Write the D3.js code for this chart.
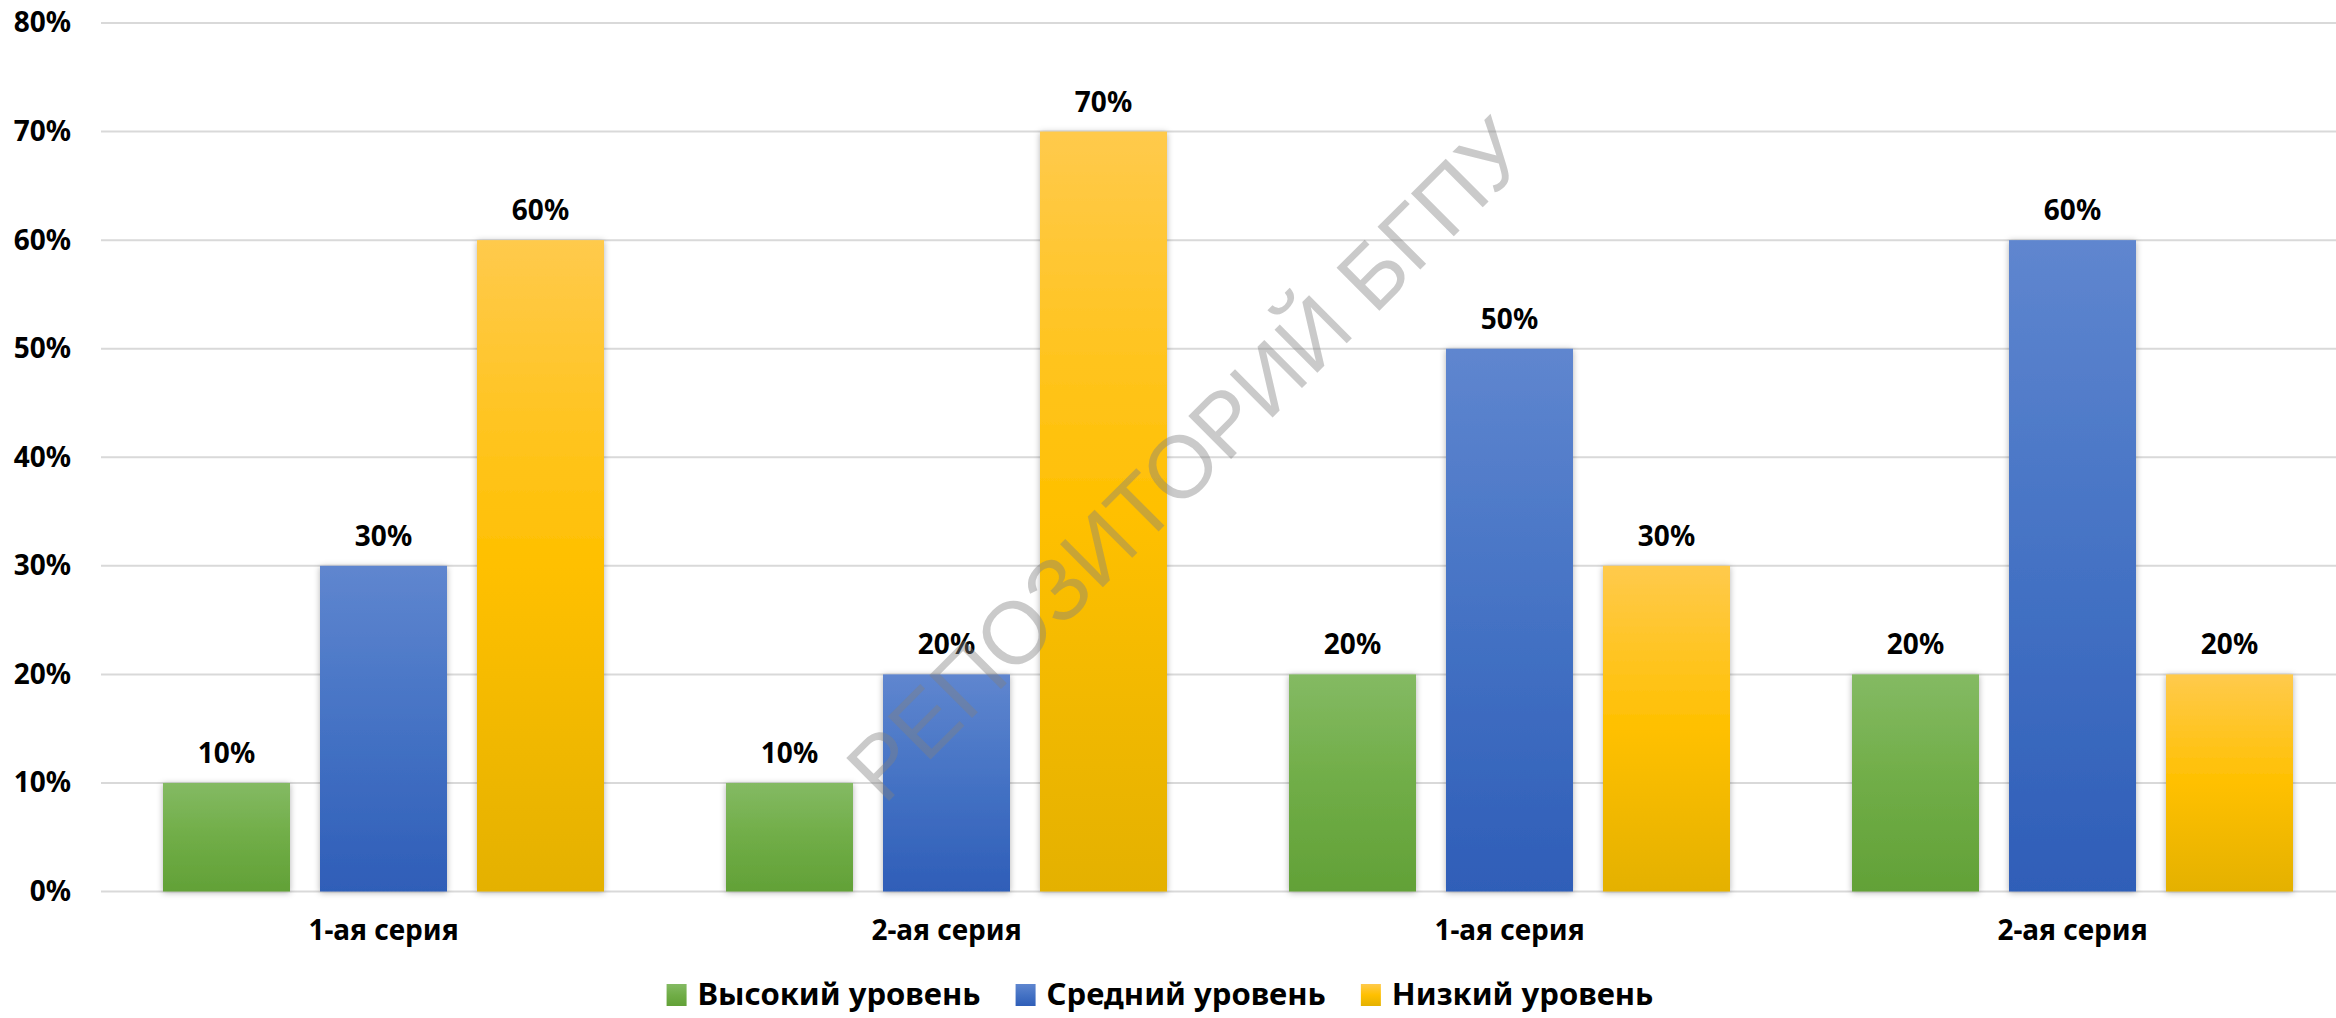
<!DOCTYPE html>
<html>
<head>
  <meta charset="UTF-8">
  <title>Уровни по сериям</title>
<style>
    body { margin: 0; background: white; }
    svg { display: block; }
    .lbl { font-family: "Noto Sans", "Open Sans", sans-serif; font-weight: 700; fill: black; }
</style>
</head>
<body>
<svg></svg>
<script src="https://d3js.org/d3.v7.min.js"></script>
<script>

// chart data
let categories = ["1-ая серия", "2-ая серия", "1-ая серия", "2-ая серия"];
let seriesNames = ["Высокий уровень", "Средний уровень", "Низкий уровень"];
let highValues = [0.1, 0.1, 0.2, 0.2];
let midValues = [0.3, 0.2, 0.5, 0.6];
let lowValues = [0.6, 0.7, 0.3, 0.2];
let yTicks = [0, 0.1, 0.2, 0.3, 0.4, 0.5, 0.6, 0.7, 0.8];

let seriesValues = [highValues, midValues, lowValues];
// top / middle / bottom gradient stops for each series
let colors = [
    ["#84ba63", "#70ad47", "#62a137"],
    ["#5f86cf", "#4472c4", "#2f5eb8"],
    ["#ffca4c", "#ffc000", "#e4b100"]
];

let width = 2336, height = 1018;

let svg = d3.select("svg")
    .attr("width", width)
    .attr("height", height)
    .attr("viewBox", "0 0 " + width + " " + height);

let defs = svg.append("defs");

colors.forEach((c, i) => {
    let g = defs.append("linearGradient")
        .attr("id", "grad" + i)
        .attr("x1", 0).attr("y1", 0).attr("x2", 0).attr("y2", 1);
    g.append("stop").attr("offset", "0%").attr("stop-color", c[0]);
    g.append("stop").attr("offset", "50%").attr("stop-color", c[1]);
    g.append("stop").attr("offset", "100%").attr("stop-color", c[2]);
});

// soft shadow round the bars
let shadow = defs.append("filter")
    .attr("id", "shadow")
    .attr("x", "-20%").attr("y", "-20%")
    .attr("width", "140%").attr("height", "140%");
shadow.append("feDropShadow")
    .attr("dx", 0).attr("dy", 1)
    .attr("stdDeviation", 3)
    .attr("flood-color", "#000")
    .attr("flood-opacity", 0.3);

// scales
let x0 = d3.scaleBand()
    .domain(d3.range(categories.length))
    .range([102, 2354])
    .padding(0);

let x1 = d3.scaleBand()
    .domain(d3.range(seriesNames.length))
    .range([61, x0.bandwidth() - 61])
    .paddingInner(30 / 157);

let y = d3.scaleLinear()
    .domain([0, 0.8])
    .range([891.5, 23]);

// gridlines
svg.append("g")
    .attr("id", "grid")
    .selectAll("line")
    .data(yTicks)
    .enter()
    .append("line")
    .attr("x1", 101)
    .attr("x2", width)
    .attr("y1", d => y(d))
    .attr("y2", d => y(d))
    .attr("stroke", "#d9d9d9")
    .attr("stroke-width", 2);

// y axis labels
let yAxis = svg.append("g")
    .attr("transform", "translate(71,0)")
    .call(d3.axisLeft(y).tickValues(yTicks).tickFormat(d3.format(".0%")).tickSize(0).tickPadding(0));
yAxis.select(".domain").remove();
yAxis.selectAll("text")
    .attr("class", "lbl")
    .attr("font-size", 28)
    .attr("fill", "black");

// bars
let groups = svg.append("g")
    .attr("id", "bars")
    .selectAll("g")
    .data(categories)
    .enter()
    .append("g")
    .attr("transform", (d, i) => "translate(" + x0(i) + ",0)");

groups.selectAll("rect")
    .data((d, i) => seriesValues.map((vals, s) => ({ s: s, v: vals[i] })))
    .enter()
    .append("rect")
    .attr("x", d => x1(d.s))
    .attr("width", x1.bandwidth())
    .attr("y", d => y(d.v))
    .attr("height", d => y(0) - y(d.v))
    .attr("fill", d => "url(#grad" + d.s + ")")
    .attr("filter", "url(#shadow)");

// value labels
groups.selectAll("text.val")
    .data((d, i) => seriesValues.map((vals, s) => ({ s: s, v: vals[i] })))
    .enter()
    .append("text")
    .attr("class", "lbl val")
    .attr("font-size", 28)
    .attr("text-anchor", "middle")
    .attr("x", d => x1(d.s) + x1.bandwidth() / 2)
    .attr("y", d => y(d.v) - 20)
    .text(d => d3.format(".0%")(d.v));

// category labels
svg.append("g")
    .selectAll("text")
    .data(categories)
    .enter()
    .append("text")
    .attr("class", "lbl")
    .attr("font-size", 28)
    .attr("text-anchor", "middle")
    .attr("x", (d, i) => x0(i) + x0.bandwidth() / 2)
    .attr("y", 940)
    .text(d => d);

// legend, centred
let legend = svg.append("g").attr("id", "legend");
let items = legend.selectAll("g")
    .data(seriesNames)
    .enter()
    .append("g");
items.append("rect")
    .attr("width", 20)
    .attr("height", 22)
    .attr("y", -21)
    .attr("fill", (d, i) => "url(#grad" + i + ")");
items.append("text")
    .attr("class", "lbl")
    .attr("font-size", 31)
    .attr("x", 31)
    .text(d => d);

let xpos = 0;
items.each(function () {
    let w = this.getBBox().width;
    d3.select(this).attr("transform", "translate(" + xpos + ",0)");
    xpos += w + 35;
});
let total = xpos - 35;
legend.attr("transform", "translate(" + (1160 - total / 2) + ",1005)");

// watermark
svg.append("text")
    .attr("transform", "translate(884,806) rotate(-45)")
    .attr("font-family", "'Liberation Sans', Arial, sans-serif")
    .attr("font-size", 88)
    .attr("fill", "#808080")
    .attr("fill-opacity", 0.42)
    .text("РЕПОЗИТОРИЙ БГПУ");

</script>
</body>
</html>
